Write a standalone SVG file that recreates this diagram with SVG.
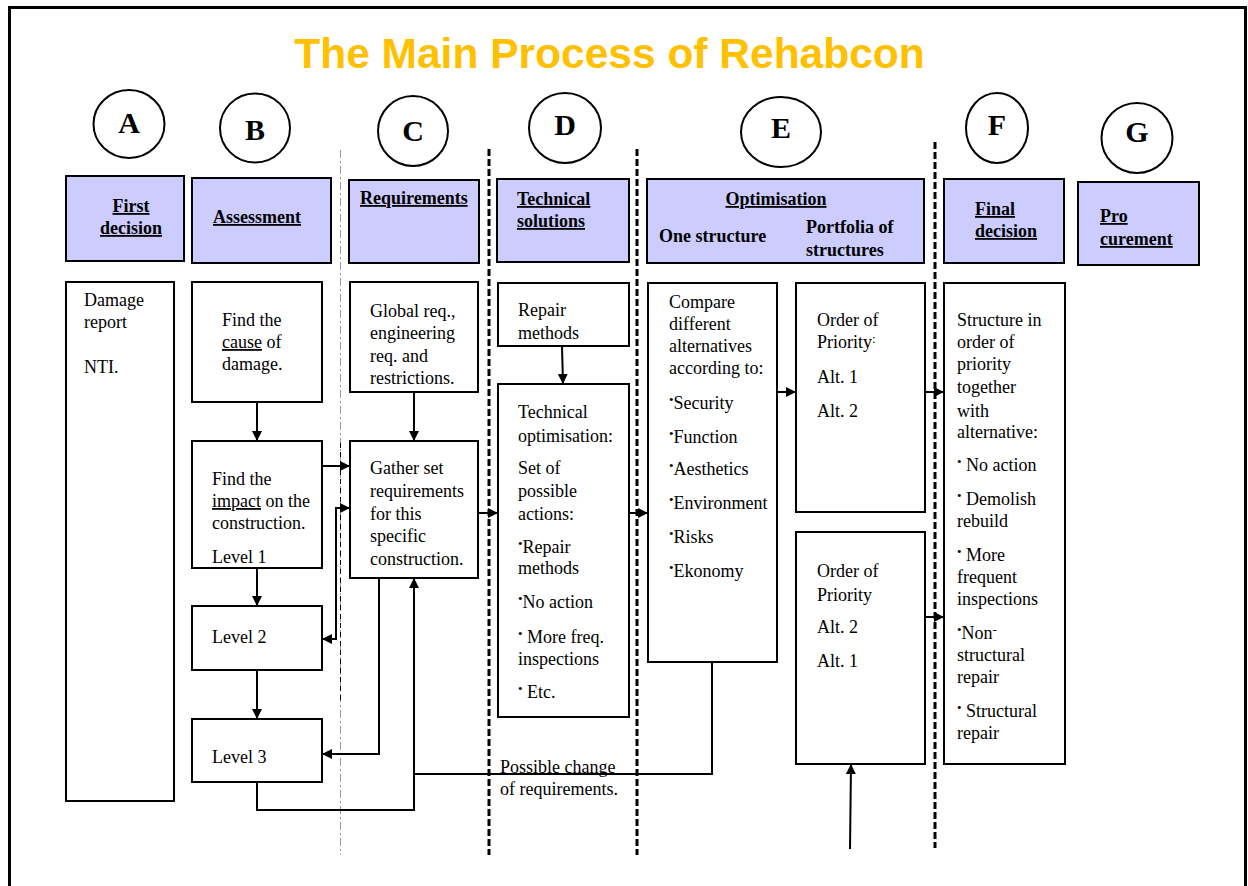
<svg xmlns="http://www.w3.org/2000/svg" width="1248" height="886" viewBox="0 0 1248 886">
<style>
.frame{fill:none;stroke:#000;stroke-width:3}
.title{font-family:"Liberation Sans",Arial,sans-serif;font-weight:bold;font-size:42.5px;fill:#FFC000}
.circ{fill:#fff;stroke:#000;stroke-width:2}
.let{font-family:"Liberation Serif","Times New Roman",serif;font-weight:bold;font-size:30px;fill:#000;text-anchor:middle}
.hdr{fill:#CCCCFF;stroke:#000;stroke-width:2}
.ht{font-family:"Liberation Serif","Times New Roman",serif;font-weight:bold;font-size:18px;fill:#000}
.u{text-decoration:underline;text-decoration-thickness:2px}
.box{fill:#fff;stroke:#000;stroke-width:2}
.bt{font-family:"Liberation Serif","Times New Roman",serif;font-size:18px;fill:#000}
.b{font-size:13px}
.con{fill:none;stroke:#000;stroke-width:2}
.thin{stroke:#999;stroke-width:1;stroke-dasharray:8 3 2 3;fill:none}
.thinb{stroke:#000;stroke-width:1;stroke-dasharray:5 4;fill:none}
.thick{stroke:#000;stroke-width:3;stroke-dasharray:7 3;fill:none}
</style>
<defs>
<marker id="ah" viewBox="0 0 10 10" refX="10" refY="5" markerWidth="10" markerHeight="10" markerUnits="userSpaceOnUse" orient="auto-start-reverse"><path d="M0,0 L10,5 L0,10 z" fill="#000"/></marker>
</defs>
<rect class="frame" x="9.5" y="7.5" width="1236" height="900"/>
<text class="title" x="609.5" y="68" text-anchor="middle">The Main Process of Rehabcon</text>

<g id="dividers">
<line class="thin" x1="340.5" y1="150" x2="340.5" y2="855"/>
<line class="thinb" x1="340.5" y1="443" x2="340.5" y2="703"/>
<line class="thick" x1="489" y1="149" x2="489" y2="855"/>
<line class="thick" x1="637" y1="149" x2="637" y2="855"/>
<line class="thick" x1="935" y1="142" x2="935" y2="848"/>
</g>

<g id="circle-A"><ellipse class="circ" cx="129" cy="124" rx="35.5" ry="34"/><text class="let" x="129" y="133">A</text></g>
<g id="circle-B"><ellipse class="circ" cx="255" cy="128" rx="35" ry="34.5"/><text class="let" x="255" y="140">B</text></g>
<g id="circle-C"><ellipse class="circ" cx="413" cy="131" rx="35" ry="35"/><text class="let" x="413" y="141">C</text></g>
<g id="circle-D"><ellipse class="circ" cx="565" cy="128" rx="36" ry="35"/><text class="let" x="565" y="135">D</text></g>
<g id="circle-E"><ellipse class="circ" cx="781" cy="132" rx="40" ry="35"/><text class="let" x="781" y="138">E</text></g>
<g id="circle-F"><ellipse class="circ" cx="997" cy="128" rx="31" ry="35"/><text class="let" x="997" y="135">F</text></g>
<g id="circle-G"><ellipse class="circ" cx="1137" cy="138" rx="35.5" ry="35"/><text class="let" x="1137" y="142">G</text></g>

<g id="hdr-first-decision"><rect class="hdr" x="66" y="176" width="118" height="85"/>
<text class="ht u" x="131" y="212" text-anchor="middle">First</text><text class="ht u" x="131" y="234" text-anchor="middle">decision</text></g>
<g id="hdr-assessment"><rect class="hdr" x="192" y="178" width="139" height="85"/>
<text class="ht u" x="257" y="223" text-anchor="middle">Assessment</text></g>
<g id="hdr-requirements"><rect class="hdr" x="349" y="180" width="130" height="83"/>
<text class="ht u" x="360" y="204">Requirements</text></g>
<g id="hdr-technical"><rect class="hdr" x="497" y="179" width="132" height="83"/>
<text class="ht u" x="517" y="205">Technical</text><text class="ht u" x="517" y="227">solutions</text></g>
<g id="hdr-optimisation"><rect class="hdr" x="647" y="179" width="277" height="84"/>
<text class="ht u" x="776" y="205" text-anchor="middle">Optimisation</text>
<text class="ht" x="659" y="242">One structure</text>
<text class="ht" x="806" y="233">Portfolia of</text><text class="ht" x="806" y="256">structures</text></g>
<g id="hdr-final-decision"><rect class="hdr" x="944" y="179" width="120" height="84"/>
<text class="ht u" x="975" y="215">Final</text><text class="ht u" x="975" y="237">decision</text></g>
<g id="hdr-procurement"><rect class="hdr" x="1078" y="182" width="121" height="83"/>
<text class="ht u" x="1100" y="222">Pro</text><text class="ht u" x="1100" y="245">curement</text></g>

<g id="box-damage"><rect class="box" x="66" y="282" width="108" height="519"/>
<text class="bt" x="84" y="306">Damage</text><text class="bt" x="84" y="328">report</text><text class="bt" x="84" y="373">NTI.</text></g>
<g id="box-cause"><rect class="box" x="192" y="282" width="130" height="120"/>
<text class="bt" x="222" y="326">Find the</text><text class="bt" x="222" y="348"><tspan class="u">cause</tspan> of</text><text class="bt" x="222" y="370">damage.</text></g>
<g id="box-impact"><rect class="box" x="192" y="441" width="130" height="127"/>
<text class="bt" x="212" y="485">Find the</text><text class="bt" x="212" y="507"><tspan class="u">impact</tspan> on the</text><text class="bt" x="212" y="529">construction.</text><text class="bt" x="212" y="563">Level 1</text></g>
<g id="box-level2"><rect class="box" x="192" y="606" width="130" height="64"/>
<text class="bt" x="212" y="643">Level 2</text></g>
<g id="box-level3"><rect class="box" x="192" y="719" width="130" height="63"/>
<text class="bt" x="212" y="763">Level 3</text></g>
<g id="box-global"><rect class="box" x="350" y="282" width="128" height="110"/>
<text class="bt" x="370" y="317">Global req.,</text><text class="bt" x="370" y="339">engineering</text><text class="bt" x="370" y="362">req. and</text><text class="bt" x="370" y="384">restrictions.</text></g>
<g id="box-gather"><rect class="box" x="350" y="441" width="128" height="137"/>
<text class="bt" x="370" y="474">Gather set</text><text class="bt" x="370" y="497">requirements</text><text class="bt" x="370" y="520">for this</text><text class="bt" x="370" y="542">specific</text><text class="bt" x="370" y="565">construction.</text></g>
<g id="box-repair"><rect class="box" x="498" y="283" width="131" height="63"/>
<text class="bt" x="518" y="316">Repair</text><text class="bt" x="518" y="339">methods</text></g>
<g id="box-techopt"><rect class="box" x="498" y="384" width="131" height="333"/>
<text class="bt" x="518" y="418">Technical</text><text class="bt" x="518" y="442">optimisation:</text>
<text class="bt" x="518" y="474">Set of</text><text class="bt" x="518" y="497">possible</text><text class="bt" x="518" y="520">actions:</text>
<text class="bt" x="518" y="553"><tspan class="b" dy="-5">•</tspan><tspan dy="5">Repair</tspan></text><text class="bt" x="518" y="574">methods</text>
<text class="bt" x="518" y="608"><tspan class="b" dy="-5">•</tspan><tspan dy="5">No action</tspan></text>
<text class="bt" x="518" y="643"><tspan class="b" dy="-5">•</tspan><tspan dy="5"> More freq.</tspan></text><text class="bt" x="518" y="665">inspections</text>
<text class="bt" x="518" y="698"><tspan class="b" dy="-5">•</tspan><tspan dy="5"> Etc.</tspan></text></g>
<g id="box-compare"><rect class="box" x="648" y="283" width="129" height="379"/>
<text class="bt" x="669" y="308">Compare</text><text class="bt" x="669" y="330">different</text><text class="bt" x="669" y="352">alternatives</text><text class="bt" x="669" y="374">according to:</text>
<text class="bt" x="669" y="409"><tspan class="b" dy="-5">•</tspan><tspan dy="5">Security</tspan></text>
<text class="bt" x="669" y="443"><tspan class="b" dy="-5">•</tspan><tspan dy="5">Function</tspan></text>
<text class="bt" x="669" y="475"><tspan class="b" dy="-5">•</tspan><tspan dy="5">Aesthetics</tspan></text>
<text class="bt" x="669" y="509"><tspan class="b" dy="-5">•</tspan><tspan dy="5">Environment</tspan></text>
<text class="bt" x="669" y="543"><tspan class="b" dy="-5">•</tspan><tspan dy="5">Risks</tspan></text>
<text class="bt" x="669" y="577"><tspan class="b" dy="-5">•</tspan><tspan dy="5">Ekonomy</tspan></text></g>
<g id="box-order1"><rect class="box" x="796" y="283" width="129" height="229"/>
<text class="bt" x="817" y="326">Order of</text><text class="bt" x="817" y="348">Priority<tspan class="b" dy="-5">:</tspan></text>
<text class="bt" x="817" y="383">Alt. 1</text><text class="bt" x="817" y="417">Alt. 2</text></g>
<g id="box-order2"><rect class="box" x="796" y="532" width="129" height="232"/>
<text class="bt" x="817" y="577">Order of</text><text class="bt" x="817" y="601">Priority</text>
<text class="bt" x="817" y="633">Alt. 2</text><text class="bt" x="817" y="667">Alt. 1</text></g>
<g id="box-structure"><rect class="box" x="944" y="283" width="121" height="481"/>
<text class="bt" x="957" y="326">Structure in</text><text class="bt" x="957" y="348">order of</text><text class="bt" x="957" y="370">priority</text><text class="bt" x="957" y="393">together</text><text class="bt" x="957" y="417">with</text><text class="bt" x="957" y="438">alternative:</text>
<text class="bt" x="957" y="471"><tspan class="b" dy="-5">•</tspan><tspan dy="5"> No action</tspan></text>
<text class="bt" x="957" y="505"><tspan class="b" dy="-5">•</tspan><tspan dy="5"> Demolish</tspan></text><text class="bt" x="957" y="527">rebuild</text>
<text class="bt" x="957" y="561"><tspan class="b" dy="-5">•</tspan><tspan dy="5"> More</tspan></text><text class="bt" x="957" y="583">frequent</text><text class="bt" x="957" y="605">inspections</text>
<text class="bt" x="957" y="639"><tspan class="b" dy="-5">•</tspan><tspan dy="5">Non</tspan><tspan class="b" dy="-5">-</tspan></text><text class="bt" x="957" y="661">structural</text><text class="bt" x="957" y="683">repair</text>
<text class="bt" x="957" y="717"><tspan class="b" dy="-5">•</tspan><tspan dy="5"> Structural</tspan></text><text class="bt" x="957" y="739">repair</text></g>

<g id="label-change"><text class="bt" x="500" y="773">Possible change</text><text class="bt" x="500" y="795">of requirements.</text></g>

<g id="connectors">
<path class="con" d="M257,402 V441" marker-end="url(#ah)"/>
<path class="con" d="M257,568 V606" marker-end="url(#ah)"/>
<path class="con" d="M257,670 V719" marker-end="url(#ah)"/>
<path class="con" d="M322,466 H350" marker-end="url(#ah)"/>
<path class="con" d="M322,639 H336 V508 H350" marker-start="url(#ah)" marker-end="url(#ah)"/>
<path class="con" d="M414,392 V441" marker-end="url(#ah)"/>
<path class="con" d="M379,578 V754 H322" marker-end="url(#ah)"/>
<path class="con" d="M257,782 V810 H414 V578" marker-end="url(#ah)"/>
<path class="con" d="M712,662 V774 H414"/>
<path class="con" d="M478,513 H498" marker-end="url(#ah)"/>
<path class="con" d="M629,513 H648" marker-end="url(#ah)"/>
<path class="con" d="M562,346 L563,384" marker-end="url(#ah)"/>
<path class="con" d="M777,392 H796" marker-end="url(#ah)"/>
<path class="con" d="M925,392 H944" marker-end="url(#ah)"/>
<path class="con" d="M925,617 H944" marker-end="url(#ah)"/>
<path class="con" d="M850,849 L851,764" marker-end="url(#ah)"/>
</g>
</svg>
